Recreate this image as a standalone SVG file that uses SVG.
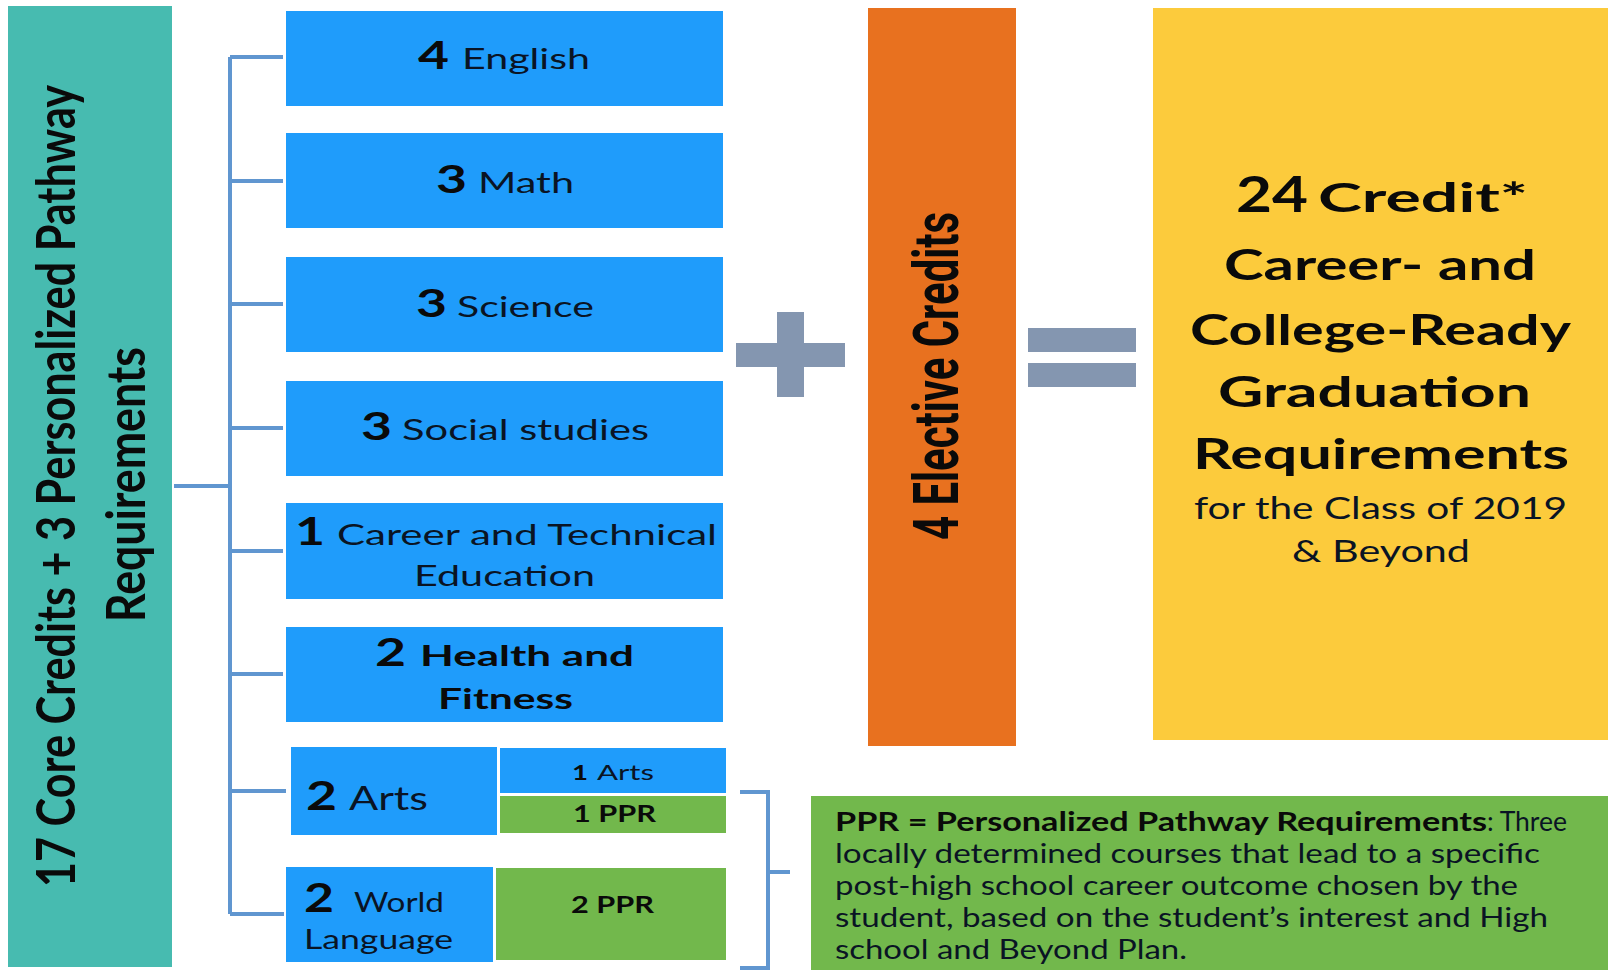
<svg xmlns="http://www.w3.org/2000/svg" width="1608" height="970" viewBox="0 0 1608 970">
<style>
.blue{fill:#1f9cfb}
.green{fill:#72b84c}
.num{font-family:Lato,"Liberation Sans",sans-serif;font-weight:700;fill:#0a0a0a}
.lbl{font-family:Lato,"Liberation Sans",sans-serif;font-weight:400;fill:#0a1424}
.bld{font-family:Lato,"Liberation Sans",sans-serif;font-weight:700;fill:#0a0a0a}
.conn{stroke:#6096d0;stroke-width:4;fill:none}
.op{fill:#8496b0}
</style>
<rect width="1608" height="970" fill="#ffffff"/>

<g id="connectors">
  <path class="conn" d="M174 486 H230 M230 57 V914 M230 57 H283 M230 181 H283 M230 304 H283 M230 428 H283 M230 551 H283 M230 674 H283 M230 791 H286 M230 914 H284"/>
  <path class="conn" d="M740 792 H768 V968 H740 M768 872 H790"/>
</g>

<g id="core">
  <rect x="8" y="6" width="164" height="961" fill="#47bbb0"/>
  <text class="bld" font-size="38" transform="translate(75,887) rotate(-90) scale(1,1.42)" textLength="802" lengthAdjust="spacingAndGlyphs">17 Core Credits + 3 Personalized Pathway</text>
  <text class="bld" font-size="38" transform="translate(145,622) rotate(-90) scale(1,1.42)" textLength="275" lengthAdjust="spacingAndGlyphs">Requirements</text>
</g>

<g id="english">
  <rect class="blue" x="286" y="11" width="437" height="95"/>
  <text class="num" x="418" y="69" font-size="38" textLength="31" lengthAdjust="spacingAndGlyphs">4</text>
  <text class="lbl" x="462" y="69" font-size="29" textLength="128" lengthAdjust="spacingAndGlyphs">English</text>
</g>
<g id="math">
  <rect class="blue" x="286" y="133" width="437" height="95"/>
  <text class="num" x="436" y="193" font-size="38" textLength="31" lengthAdjust="spacingAndGlyphs">3</text>
  <text class="lbl" x="478" y="193" font-size="29" textLength="96" lengthAdjust="spacingAndGlyphs">Math</text>
</g>
<g id="science">
  <rect class="blue" x="286" y="257" width="437" height="95"/>
  <text class="num" x="416" y="317" font-size="38" textLength="31" lengthAdjust="spacingAndGlyphs">3</text>
  <text class="lbl" x="457" y="317" font-size="29" textLength="137" lengthAdjust="spacingAndGlyphs">Science</text>
</g>
<g id="social">
  <rect class="blue" x="286" y="381" width="437" height="95"/>
  <text class="num" x="361" y="440" font-size="38" textLength="31" lengthAdjust="spacingAndGlyphs">3</text>
  <text class="lbl" x="402" y="440" font-size="29" textLength="247" lengthAdjust="spacingAndGlyphs">Social studies</text>
</g>
<g id="cte">
  <rect class="blue" x="286" y="503" width="437" height="96"/>
  <text class="num" x="295" y="545" font-size="38" textLength="30" lengthAdjust="spacingAndGlyphs">1</text>
  <text class="lbl" x="337" y="545" font-size="29" textLength="380" lengthAdjust="spacingAndGlyphs">Career and Technical</text>
  <text class="lbl" x="414" y="586" font-size="29" textLength="181" lengthAdjust="spacingAndGlyphs">Education</text>
</g>
<g id="health">
  <rect class="blue" x="286" y="627" width="437" height="95"/>
  <text class="num" x="375" y="666" font-size="38" textLength="31" lengthAdjust="spacingAndGlyphs">2</text>
  <text class="bld" x="420" y="666" font-size="29" textLength="214" lengthAdjust="spacingAndGlyphs">Health and</text>
  <text class="bld" x="438" y="709" font-size="29" textLength="135" lengthAdjust="spacingAndGlyphs">Fitness</text>
</g>
<g id="arts">
  <rect class="blue" x="291" y="747" width="206" height="88"/>
  <text class="num" x="306" y="810" font-size="40" textLength="31" lengthAdjust="spacingAndGlyphs">2</text>
  <text class="lbl" x="349" y="810" font-size="32" textLength="79" lengthAdjust="spacingAndGlyphs">Arts</text>
  <rect class="blue" x="500" y="748" width="226" height="45"/>
  <text class="num" x="572" y="780" font-size="21" textLength="16" lengthAdjust="spacingAndGlyphs">1</text>
  <text class="lbl" x="597" y="780" font-size="21" textLength="57" lengthAdjust="spacingAndGlyphs">Arts</text>
  <rect class="green" x="500" y="796" width="226" height="37"/>
  <text class="bld" x="573" y="822" font-size="22" textLength="83" lengthAdjust="spacingAndGlyphs">1 PPR</text>
</g>
<g id="world">
  <rect class="blue" x="286" y="867" width="207" height="95"/>
  <text class="num" x="304" y="912" font-size="41" textLength="30" lengthAdjust="spacingAndGlyphs">2</text>
  <text class="lbl" x="354" y="912" font-size="26" textLength="90" lengthAdjust="spacingAndGlyphs">World</text>
  <text class="lbl" x="304" y="949" font-size="26" textLength="149" lengthAdjust="spacingAndGlyphs">Language</text>
  <rect class="green" x="496" y="868" width="230" height="92"/>
  <text class="bld" x="571" y="913" font-size="22" textLength="83" lengthAdjust="spacingAndGlyphs">2 PPR</text>
</g>

<g id="plus">
  <rect class="op" x="736" y="343" width="109" height="24"/>
  <rect class="op" x="777" y="312" width="27" height="85"/>
</g>

<g id="elective">
  <rect x="868" y="8" width="148" height="738" fill="#e8711f"/>
  <text font-family="Roboto,'Liberation Sans',sans-serif" font-weight="700" font-size="34" fill="#0a0a0a" transform="translate(958,540) rotate(-90) scale(1,1.85)" textLength="328" lengthAdjust="spacingAndGlyphs">4 Elective Credits</text>
</g>

<g id="equals">
  <rect class="op" x="1028" y="328" width="108" height="24"/>
  <rect class="op" x="1028" y="363" width="108" height="24"/>
</g>

<g id="total">
  <rect x="1153" y="8" width="455" height="732" fill="#fccb3c"/>
  <text class="bld" x="1236" y="212" font-size="50" textLength="72" lengthAdjust="spacingAndGlyphs">24</text>
  <text class="bld" x="1318" y="212" font-size="40" textLength="210" lengthAdjust="spacingAndGlyphs">Credit*</text>
  <text class="bld" x="1224" y="280" font-size="42" textLength="312" lengthAdjust="spacingAndGlyphs">Career- and</text>
  <text class="bld" x="1190" y="345" font-size="42" textLength="381" lengthAdjust="spacingAndGlyphs">College-Ready</text>
  <text class="bld" x="1218" y="407" font-size="42" textLength="313" lengthAdjust="spacingAndGlyphs">Graduation</text>
  <text class="bld" x="1193" y="469" font-size="42" textLength="376" lengthAdjust="spacingAndGlyphs">Requirements</text>
  <text class="lbl" x="1194" y="519" font-size="30" textLength="373" lengthAdjust="spacingAndGlyphs" fill="#0a0a0a">for the Class of 2019</text>
  <text class="lbl" x="1292" y="562" font-size="30" textLength="178" lengthAdjust="spacingAndGlyphs" fill="#0a0a0a">&amp; Beyond</text>
</g>

<g id="ppr-note">
  <rect class="green" x="811" y="796" width="797" height="174"/>
  <text class="bld" x="835" y="831" font-size="26" textLength="652" lengthAdjust="spacingAndGlyphs">PPR = Personalized Pathway Requirements</text>
  <text class="lbl" x="1487" y="831" font-size="26" textLength="80" lengthAdjust="spacingAndGlyphs">: Three</text>
  <text class="lbl" x="835" y="863" font-size="26" textLength="705" lengthAdjust="spacingAndGlyphs">locally determined courses that lead to a specific</text>
  <text class="lbl" x="835" y="895" font-size="26" textLength="683" lengthAdjust="spacingAndGlyphs">post-high school career outcome chosen by the</text>
  <text class="lbl" x="835" y="927" font-size="26" textLength="713" lengthAdjust="spacingAndGlyphs">student, based on the student’s interest and High</text>
  <text class="lbl" x="835" y="959" font-size="26" textLength="352" lengthAdjust="spacingAndGlyphs">school and Beyond Plan.</text>
</g>
</svg>
